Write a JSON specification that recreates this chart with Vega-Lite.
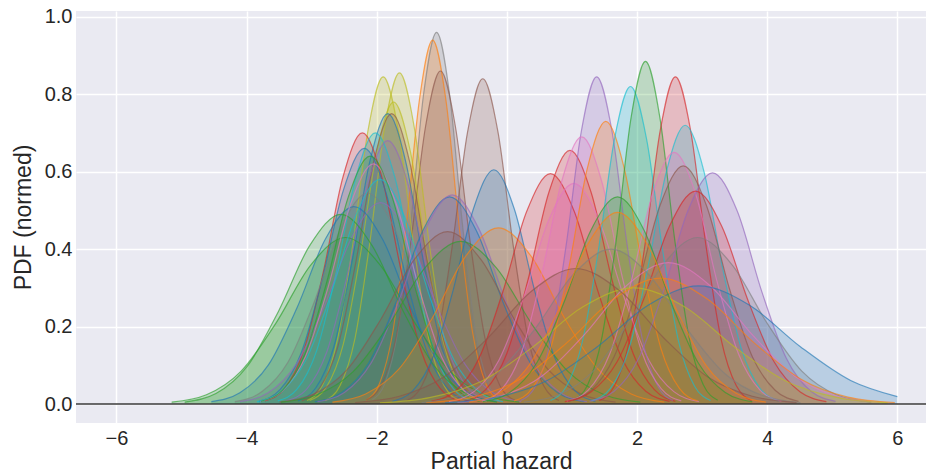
{
"$schema":"https://vega.github.io/schema/vega-lite/v6.json",
"width":850,"height":412,
"autosize":"none",
"padding":{"left":76,"top":11,"right":0,"bottom":52},
"background":"white",
"config":{"view":{"fill":"#EAEAF2","stroke":null},
"axis":{"labelFont":"Liberation Sans","titleFont":"Liberation Sans","labelFontSize":20,"titleFontSize":23,"titleFontWeight":"normal","labelColor":"#262626","titleColor":"#262626","grid":true,"gridColor":"white","gridWidth":1.5,"domain":false,"ticks":false}},
"datasets":{
"curves":[{"c":1,"g":7},{"c":2,"g":1},{"c":3,"g":5},{"c":4,"g":5},{"c":5,"g":8},{"c":6,"g":8},{"c":7,"g":8},{"c":8,"g":0},{"c":9,"g":5},{"c":10,"g":3},{"c":11,"g":9},{"c":12,"g":4},{"c":13,"g":0},{"c":14,"g":7},{"c":15,"g":4},{"c":16,"g":0},{"c":17,"g":2},{"c":18,"g":2},{"c":19,"g":6},{"c":20,"g":9},{"c":21,"g":2},{"c":22,"g":0},{"c":23,"g":4},{"c":24,"g":5},{"c":25,"g":2},{"c":26,"g":0},{"c":27,"g":1},{"c":28,"g":3},{"c":29,"g":3},{"c":30,"g":6},{"c":31,"g":4},{"c":32,"g":6},{"c":33,"g":1},{"c":34,"g":9},{"c":35,"g":2},{"c":36,"g":3},{"c":37,"g":9},{"c":38,"g":6},{"c":39,"g":5},{"c":40,"g":4},{"c":41,"g":3},{"c":42,"g":7},{"c":43,"g":6},{"c":44,"g":1},{"c":45,"g":0},{"c":46,"g":8},{"c":47,"g":7},{"c":48,"g":5},{"c":49,"g":2},{"c":50,"g":1}],
"pts":[
{"c":1,"x":-2.07,"y":0.011},{"c":1,"x":-1.872,"y":0.054},{"c":1,"x":-1.674,"y":0.19},{"c":1,"x":-1.476,"y":0.467},{"c":1,"x":-1.278,"y":0.802},{"c":1,"x":-1.08,"y":0.96},{"c":1,"x":-0.882,"y":0.802},{"c":1,"x":-0.684,"y":0.467},{"c":1,"x":-0.486,"y":0.19},{"c":1,"x":-0.288,"y":0.054},{"c":1,"x":-0.09,"y":0.011},
{"c":2,"x":-2.16,"y":0.01},{"c":2,"x":-1.956,"y":0.053},{"c":2,"x":-1.752,"y":0.186},{"c":2,"x":-1.548,"y":0.458},{"c":2,"x":-1.344,"y":0.785},{"c":2,"x":-1.14,"y":0.94},{"c":2,"x":-0.936,"y":0.785},{"c":2,"x":-0.732,"y":0.458},{"c":2,"x":-0.528,"y":0.186},{"c":2,"x":-0.324,"y":0.053},{"c":2,"x":-0.12,"y":0.01},
{"c":3,"x":-2.16,"y":0.01},{"c":3,"x":-1.932,"y":0.048},{"c":3,"x":-1.704,"y":0.17},{"c":3,"x":-1.476,"y":0.419},{"c":3,"x":-1.248,"y":0.718},{"c":3,"x":-1.02,"y":0.86},{"c":3,"x":-0.792,"y":0.718},{"c":3,"x":-0.564,"y":0.419},{"c":3,"x":-0.336,"y":0.17},{"c":3,"x":-0.108,"y":0.048},{"c":3,"x":0.12,"y":0.01},
{"c":4,"x":-1.54,"y":0.009},{"c":4,"x":-1.306,"y":0.047},{"c":4,"x":-1.072,"y":0.166},{"c":4,"x":-0.838,"y":0.409},{"c":4,"x":-0.604,"y":0.702},{"c":4,"x":-0.37,"y":0.84},{"c":4,"x":-0.136,"y":0.702},{"c":4,"x":0.098,"y":0.409},{"c":4,"x":0.332,"y":0.166},{"c":4,"x":0.566,"y":0.047},{"c":4,"x":0.8,"y":0.009},
{"c":5,"x":-3.07,"y":0.009},{"c":5,"x":-2.836,"y":0.047},{"c":5,"x":-2.602,"y":0.167},{"c":5,"x":-2.368,"y":0.411},{"c":5,"x":-2.134,"y":0.706},{"c":5,"x":-1.9,"y":0.845},{"c":5,"x":-1.666,"y":0.706},{"c":5,"x":-1.432,"y":0.411},{"c":5,"x":-1.198,"y":0.167},{"c":5,"x":-0.964,"y":0.047},{"c":5,"x":-0.73,"y":0.009},
{"c":6,"x":-2.79,"y":0.009},{"c":6,"x":-2.562,"y":0.048},{"c":6,"x":-2.334,"y":0.169},{"c":6,"x":-2.106,"y":0.416},{"c":6,"x":-1.878,"y":0.714},{"c":6,"x":-1.65,"y":0.855},{"c":6,"x":-1.422,"y":0.714},{"c":6,"x":-1.194,"y":0.416},{"c":6,"x":-0.966,"y":0.169},{"c":6,"x":-0.738,"y":0.048},{"c":6,"x":-0.51,"y":0.009},
{"c":7,"x":-3.03,"y":0.009},{"c":7,"x":-2.772,"y":0.044},{"c":7,"x":-2.514,"y":0.154},{"c":7,"x":-2.256,"y":0.38},{"c":7,"x":-1.998,"y":0.652},{"c":7,"x":-1.74,"y":0.78},{"c":7,"x":-1.482,"y":0.652},{"c":7,"x":-1.224,"y":0.38},{"c":7,"x":-0.966,"y":0.154},{"c":7,"x":-0.708,"y":0.044},{"c":7,"x":-0.45,"y":0.009},
{"c":8,"x":-3.21,"y":0.008},{"c":8,"x":-2.934,"y":0.042},{"c":8,"x":-2.658,"y":0.148},{"c":8,"x":-2.382,"y":0.365},{"c":8,"x":-2.106,"y":0.626},{"c":8,"x":-1.83,"y":0.75},{"c":8,"x":-1.554,"y":0.626},{"c":8,"x":-1.278,"y":0.365},{"c":8,"x":-1.002,"y":0.148},{"c":8,"x":-0.726,"y":0.042},{"c":8,"x":-0.45,"y":0.008},
{"c":9,"x":-3.15,"y":0.008},{"c":9,"x":-2.874,"y":0.042},{"c":9,"x":-2.598,"y":0.148},{"c":9,"x":-2.322,"y":0.365},{"c":9,"x":-2.046,"y":0.626},{"c":9,"x":-1.77,"y":0.75},{"c":9,"x":-1.494,"y":0.626},{"c":9,"x":-1.218,"y":0.365},{"c":9,"x":-0.942,"y":0.148},{"c":9,"x":-0.666,"y":0.042},{"c":9,"x":-0.39,"y":0.008},
{"c":10,"x":-3.72,"y":0.008},{"c":10,"x":-3.42,"y":0.039},{"c":10,"x":-3.12,"y":0.139},{"c":10,"x":-2.82,"y":0.341},{"c":10,"x":-2.52,"y":0.585},{"c":10,"x":-2.22,"y":0.7},{"c":10,"x":-1.92,"y":0.585},{"c":10,"x":-1.62,"y":0.341},{"c":10,"x":-1.32,"y":0.139},{"c":10,"x":-1.02,"y":0.039},{"c":10,"x":-0.72,"y":0.008},
{"c":11,"x":-3.52,"y":0.008},{"c":11,"x":-3.22,"y":0.039},{"c":11,"x":-2.92,"y":0.139},{"c":11,"x":-2.62,"y":0.341},{"c":11,"x":-2.32,"y":0.585},{"c":11,"x":-2.02,"y":0.7},{"c":11,"x":-1.72,"y":0.585},{"c":11,"x":-1.42,"y":0.341},{"c":11,"x":-1.12,"y":0.139},{"c":11,"x":-0.82,"y":0.039},{"c":11,"x":-0.52,"y":0.008},
{"c":12,"x":-3.39,"y":0.008},{"c":12,"x":-3.078,"y":0.038},{"c":12,"x":-2.766,"y":0.135},{"c":12,"x":-2.454,"y":0.331},{"c":12,"x":-2.142,"y":0.568},{"c":12,"x":-1.83,"y":0.68},{"c":12,"x":-1.518,"y":0.568},{"c":12,"x":-1.206,"y":0.331},{"c":12,"x":-0.894,"y":0.135},{"c":12,"x":-0.582,"y":0.038},{"c":12,"x":-0.27,"y":0.008},
{"c":13,"x":-3.81,"y":0.007},{"c":13,"x":-3.486,"y":0.037},{"c":13,"x":-3.162,"y":0.131},{"c":13,"x":-2.838,"y":0.321},{"c":13,"x":-2.514,"y":0.551},{"c":13,"x":-2.19,"y":0.66},{"c":13,"x":-1.866,"y":0.551},{"c":13,"x":-1.542,"y":0.321},{"c":13,"x":-1.218,"y":0.131},{"c":13,"x":-0.894,"y":0.037},{"c":13,"x":-0.57,"y":0.007},
{"c":14,"x":-4.18,"y":0.006},{"c":14,"x":-3.772,"y":0.031},{"c":14,"x":-3.364,"y":0.108},{"c":14,"x":-2.956,"y":0.265},{"c":14,"x":-2.548,"y":0.455},{"c":14,"x":-2.14,"y":0.545},{"c":14,"x":-1.732,"y":0.455},{"c":14,"x":-1.324,"y":0.265},{"c":14,"x":-0.916,"y":0.108},{"c":14,"x":-0.508,"y":0.031},{"c":14,"x":-0.1,"y":0.006},
{"c":15,"x":-4.1,"y":0.006},{"c":15,"x":-3.668,"y":0.029},{"c":15,"x":-3.236,"y":0.103},{"c":15,"x":-2.804,"y":0.253},{"c":15,"x":-2.372,"y":0.434},{"c":15,"x":-1.94,"y":0.52},{"c":15,"x":-1.508,"y":0.434},{"c":15,"x":-1.076,"y":0.253},{"c":15,"x":-0.644,"y":0.103},{"c":15,"x":-0.212,"y":0.029},{"c":15,"x":0.22,"y":0.006},
{"c":16,"x":-4.54,"y":0.006},{"c":16,"x":-4.102,"y":0.029},{"c":16,"x":-3.664,"y":0.101},{"c":16,"x":-3.226,"y":0.248},{"c":16,"x":-2.788,"y":0.426},{"c":16,"x":-2.35,"y":0.51},{"c":16,"x":-1.912,"y":0.426},{"c":16,"x":-1.474,"y":0.248},{"c":16,"x":-1.036,"y":0.101},{"c":16,"x":-0.598,"y":0.029},{"c":16,"x":-0.16,"y":0.006},
{"c":17,"x":-4.95,"y":0.005},{"c":17,"x":-4.47,"y":0.027},{"c":17,"x":-3.99,"y":0.097},{"c":17,"x":-3.51,"y":0.239},{"c":17,"x":-3.03,"y":0.409},{"c":17,"x":-2.55,"y":0.49},{"c":17,"x":-2.07,"y":0.409},{"c":17,"x":-1.59,"y":0.239},{"c":17,"x":-1.11,"y":0.097},{"c":17,"x":-0.63,"y":0.027},{"c":17,"x":-0.15,"y":0.005},
{"c":18,"x":-5.15,"y":0.005},{"c":18,"x":-4.616,"y":0.024},{"c":18,"x":-4.082,"y":0.085},{"c":18,"x":-3.548,"y":0.209},{"c":18,"x":-3.014,"y":0.359},{"c":18,"x":-2.48,"y":0.43},{"c":18,"x":-1.946,"y":0.359},{"c":18,"x":-1.412,"y":0.209},{"c":18,"x":-0.878,"y":0.085},{"c":18,"x":-0.344,"y":0.024},{"c":18,"x":0.19,"y":0.005},
{"c":19,"x":-3.79,"y":0.007},{"c":19,"x":-3.442,"y":0.035},{"c":19,"x":-3.094,"y":0.123},{"c":19,"x":-2.746,"y":0.302},{"c":19,"x":-2.398,"y":0.518},{"c":19,"x":-2.05,"y":0.62},{"c":19,"x":-1.702,"y":0.518},{"c":19,"x":-1.354,"y":0.302},{"c":19,"x":-1.006,"y":0.123},{"c":19,"x":-0.658,"y":0.035},{"c":19,"x":-0.31,"y":0.007},
{"c":20,"x":-3.84,"y":0.006},{"c":20,"x":-3.462,"y":0.033},{"c":20,"x":-3.084,"y":0.115},{"c":20,"x":-2.706,"y":0.282},{"c":20,"x":-2.328,"y":0.484},{"c":20,"x":-1.95,"y":0.58},{"c":20,"x":-1.572,"y":0.484},{"c":20,"x":-1.194,"y":0.282},{"c":20,"x":-0.816,"y":0.115},{"c":20,"x":-0.438,"y":0.033},{"c":20,"x":-0.06,"y":0.006},
{"c":21,"x":-3.78,"y":0.007},{"c":21,"x":-3.444,"y":0.036},{"c":21,"x":-3.108,"y":0.127},{"c":21,"x":-2.772,"y":0.312},{"c":21,"x":-2.436,"y":0.535},{"c":21,"x":-2.1,"y":0.64},{"c":21,"x":-1.764,"y":0.535},{"c":21,"x":-1.428,"y":0.312},{"c":21,"x":-1.092,"y":0.127},{"c":21,"x":-0.756,"y":0.036},{"c":21,"x":-0.42,"y":0.007},
{"c":22,"x":-2.95,"y":0.006},{"c":22,"x":-2.536,"y":0.03},{"c":22,"x":-2.122,"y":0.106},{"c":22,"x":-1.708,"y":0.26},{"c":22,"x":-1.294,"y":0.447},{"c":22,"x":-0.88,"y":0.535},{"c":22,"x":-0.466,"y":0.447},{"c":22,"x":-0.052,"y":0.26},{"c":22,"x":0.362,"y":0.106},{"c":22,"x":0.776,"y":0.03},{"c":22,"x":1.19,"y":0.006},
{"c":23,"x":-2.91,"y":0.006},{"c":23,"x":-2.496,"y":0.03},{"c":23,"x":-2.082,"y":0.107},{"c":23,"x":-1.668,"y":0.263},{"c":23,"x":-1.254,"y":0.451},{"c":23,"x":-0.84,"y":0.54},{"c":23,"x":-0.426,"y":0.451},{"c":23,"x":-0.012,"y":0.263},{"c":23,"x":0.402,"y":0.107},{"c":23,"x":0.816,"y":0.03},{"c":23,"x":1.23,"y":0.006},
{"c":24,"x":-3.49,"y":0.005},{"c":24,"x":-2.974,"y":0.025},{"c":24,"x":-2.458,"y":0.088},{"c":24,"x":-1.942,"y":0.217},{"c":24,"x":-1.426,"y":0.372},{"c":24,"x":-0.91,"y":0.445},{"c":24,"x":-0.394,"y":0.372},{"c":24,"x":0.122,"y":0.217},{"c":24,"x":0.638,"y":0.088},{"c":24,"x":1.154,"y":0.025},{"c":24,"x":1.67,"y":0.005},
{"c":25,"x":-3.47,"y":0.005},{"c":25,"x":-2.918,"y":0.024},{"c":25,"x":-2.366,"y":0.083},{"c":25,"x":-1.814,"y":0.204},{"c":25,"x":-1.262,"y":0.351},{"c":25,"x":-0.71,"y":0.42},{"c":25,"x":-0.158,"y":0.351},{"c":25,"x":0.394,"y":0.204},{"c":25,"x":0.946,"y":0.083},{"c":25,"x":1.498,"y":0.024},{"c":25,"x":2.05,"y":0.005},
{"c":26,"x":-1.76,"y":0.007},{"c":26,"x":-1.448,"y":0.034},{"c":26,"x":-1.136,"y":0.12},{"c":26,"x":-0.824,"y":0.295},{"c":26,"x":-0.512,"y":0.505},{"c":26,"x":-0.2,"y":0.605},{"c":26,"x":0.112,"y":0.505},{"c":26,"x":0.424,"y":0.295},{"c":26,"x":0.736,"y":0.12},{"c":26,"x":1.048,"y":0.034},{"c":26,"x":1.36,"y":0.007},
{"c":27,"x":-2.68,"y":0.005},{"c":27,"x":-2.17,"y":0.026},{"c":27,"x":-1.66,"y":0.09},{"c":27,"x":-1.15,"y":0.221},{"c":27,"x":-0.64,"y":0.38},{"c":27,"x":-0.13,"y":0.455},{"c":27,"x":0.38,"y":0.38},{"c":27,"x":0.89,"y":0.221},{"c":27,"x":1.4,"y":0.09},{"c":27,"x":1.91,"y":0.026},{"c":27,"x":2.42,"y":0.005},
{"c":28,"x":-1.16,"y":0.007},{"c":28,"x":-0.794,"y":0.033},{"c":28,"x":-0.428,"y":0.118},{"c":28,"x":-0.062,"y":0.29},{"c":28,"x":0.304,"y":0.497},{"c":28,"x":0.67,"y":0.595},{"c":28,"x":1.036,"y":0.497},{"c":28,"x":1.402,"y":0.29},{"c":28,"x":1.768,"y":0.118},{"c":28,"x":2.134,"y":0.033},{"c":28,"x":2.5,"y":0.007},
{"c":29,"x":-0.65,"y":0.007},{"c":29,"x":-0.326,"y":0.037},{"c":29,"x":-0.002,"y":0.13},{"c":29,"x":0.322,"y":0.319},{"c":29,"x":0.646,"y":0.547},{"c":29,"x":0.97,"y":0.655},{"c":29,"x":1.294,"y":0.547},{"c":29,"x":1.618,"y":0.319},{"c":29,"x":1.942,"y":0.13},{"c":29,"x":2.266,"y":0.037},{"c":29,"x":2.59,"y":0.007},
{"c":30,"x":-0.89,"y":0.006},{"c":30,"x":-0.506,"y":0.032},{"c":30,"x":-0.122,"y":0.113},{"c":30,"x":0.262,"y":0.277},{"c":30,"x":0.646,"y":0.476},{"c":30,"x":1.03,"y":0.57},{"c":30,"x":1.414,"y":0.476},{"c":30,"x":1.798,"y":0.277},{"c":30,"x":2.182,"y":0.113},{"c":30,"x":2.566,"y":0.032},{"c":30,"x":2.95,"y":0.006},
{"c":31,"x":0.21,"y":0.009},{"c":31,"x":0.444,"y":0.047},{"c":31,"x":0.678,"y":0.167},{"c":31,"x":0.912,"y":0.411},{"c":31,"x":1.146,"y":0.706},{"c":31,"x":1.38,"y":0.845},{"c":31,"x":1.614,"y":0.706},{"c":31,"x":1.848,"y":0.411},{"c":31,"x":2.082,"y":0.167},{"c":31,"x":2.316,"y":0.047},{"c":31,"x":2.55,"y":0.009},
{"c":32,"x":-0.38,"y":0.008},{"c":32,"x":-0.074,"y":0.039},{"c":32,"x":0.232,"y":0.137},{"c":32,"x":0.538,"y":0.336},{"c":32,"x":0.844,"y":0.576},{"c":32,"x":1.15,"y":0.69},{"c":32,"x":1.456,"y":0.576},{"c":32,"x":1.762,"y":0.336},{"c":32,"x":2.068,"y":0.137},{"c":32,"x":2.374,"y":0.039},{"c":32,"x":2.68,"y":0.008},
{"c":33,"x":0.11,"y":0.008},{"c":33,"x":0.392,"y":0.041},{"c":33,"x":0.674,"y":0.144},{"c":33,"x":0.956,"y":0.355},{"c":33,"x":1.238,"y":0.61},{"c":33,"x":1.52,"y":0.73},{"c":33,"x":1.802,"y":0.61},{"c":33,"x":2.084,"y":0.355},{"c":33,"x":2.366,"y":0.144},{"c":33,"x":2.648,"y":0.041},{"c":33,"x":2.93,"y":0.008},
{"c":34,"x":0.67,"y":0.009},{"c":34,"x":0.916,"y":0.046},{"c":34,"x":1.162,"y":0.162},{"c":34,"x":1.408,"y":0.399},{"c":34,"x":1.654,"y":0.685},{"c":34,"x":1.9,"y":0.82},{"c":34,"x":2.146,"y":0.685},{"c":34,"x":2.392,"y":0.399},{"c":34,"x":2.638,"y":0.162},{"c":34,"x":2.884,"y":0.046},{"c":34,"x":3.13,"y":0.009},
{"c":35,"x":1.02,"y":0.01},{"c":35,"x":1.242,"y":0.05},{"c":35,"x":1.464,"y":0.175},{"c":35,"x":1.686,"y":0.431},{"c":35,"x":1.908,"y":0.739},{"c":35,"x":2.13,"y":0.885},{"c":35,"x":2.352,"y":0.739},{"c":35,"x":2.574,"y":0.431},{"c":35,"x":2.796,"y":0.175},{"c":35,"x":3.018,"y":0.05},{"c":35,"x":3.24,"y":0.01},
{"c":36,"x":1.42,"y":0.009},{"c":36,"x":1.654,"y":0.047},{"c":36,"x":1.888,"y":0.167},{"c":36,"x":2.122,"y":0.411},{"c":36,"x":2.356,"y":0.706},{"c":36,"x":2.59,"y":0.845},{"c":36,"x":2.824,"y":0.706},{"c":36,"x":3.058,"y":0.411},{"c":36,"x":3.292,"y":0.167},{"c":36,"x":3.526,"y":0.047},{"c":36,"x":3.76,"y":0.009},
{"c":37,"x":1.3,"y":0.008},{"c":37,"x":1.588,"y":0.04},{"c":37,"x":1.876,"y":0.142},{"c":37,"x":2.164,"y":0.35},{"c":37,"x":2.452,"y":0.601},{"c":37,"x":2.74,"y":0.72},{"c":37,"x":3.028,"y":0.601},{"c":37,"x":3.316,"y":0.35},{"c":37,"x":3.604,"y":0.142},{"c":37,"x":3.892,"y":0.04},{"c":37,"x":4.18,"y":0.008},
{"c":38,"x":0.92,"y":0.007},{"c":38,"x":1.25,"y":0.036},{"c":38,"x":1.58,"y":0.129},{"c":38,"x":1.91,"y":0.316},{"c":38,"x":2.24,"y":0.543},{"c":38,"x":2.57,"y":0.65},{"c":38,"x":2.9,"y":0.543},{"c":38,"x":3.23,"y":0.316},{"c":38,"x":3.56,"y":0.129},{"c":38,"x":3.89,"y":0.036},{"c":38,"x":4.22,"y":0.007},
{"c":39,"x":0.94,"y":0.007},{"c":39,"x":1.294,"y":0.035},{"c":39,"x":1.648,"y":0.122},{"c":39,"x":2.002,"y":0.299},{"c":39,"x":2.356,"y":0.514},{"c":39,"x":2.71,"y":0.615},{"c":39,"x":3.064,"y":0.514},{"c":39,"x":3.418,"y":0.299},{"c":39,"x":3.772,"y":0.122},{"c":39,"x":4.126,"y":0.035},{"c":39,"x":4.48,"y":0.007},
{"c":40,"x":1.27,"y":0.007},{"c":40,"x":1.648,"y":0.033},{"c":40,"x":2.026,"y":0.118},{"c":40,"x":2.404,"y":0.291},{"c":40,"x":2.782,"y":0.499},{"c":40,"x":3.16,"y":0.597},{"c":40,"x":3.538,"y":0.499},{"c":40,"x":3.916,"y":0.291},{"c":40,"x":4.294,"y":0.118},{"c":40,"x":4.672,"y":0.033},{"c":40,"x":5.05,"y":0.007},
{"c":41,"x":0.89,"y":0.006},{"c":41,"x":1.292,"y":0.031},{"c":41,"x":1.694,"y":0.109},{"c":41,"x":2.096,"y":0.268},{"c":41,"x":2.498,"y":0.459},{"c":41,"x":2.9,"y":0.55},{"c":41,"x":3.302,"y":0.459},{"c":41,"x":3.704,"y":0.268},{"c":41,"x":4.106,"y":0.109},{"c":41,"x":4.508,"y":0.031},{"c":41,"x":4.91,"y":0.006},
{"c":42,"x":0.26,"y":0.005},{"c":42,"x":0.794,"y":0.024},{"c":42,"x":1.328,"y":0.085},{"c":42,"x":1.862,"y":0.209},{"c":42,"x":2.396,"y":0.359},{"c":42,"x":2.93,"y":0.43},{"c":42,"x":3.464,"y":0.359},{"c":42,"x":3.998,"y":0.209},{"c":42,"x":4.532,"y":0.085},{"c":42,"x":5.066,"y":0.024},{"c":42,"x":5.6,"y":0.005},
{"c":43,"x":-0.76,"y":0.004},{"c":43,"x":-0.112,"y":0.02},{"c":43,"x":0.536,"y":0.072},{"c":43,"x":1.184,"y":0.178},{"c":43,"x":1.832,"y":0.305},{"c":43,"x":2.48,"y":0.365},{"c":43,"x":3.128,"y":0.305},{"c":43,"x":3.776,"y":0.178},{"c":43,"x":4.424,"y":0.072},{"c":43,"x":5.072,"y":0.02},{"c":43,"x":5.72,"y":0.004},
{"c":44,"x":-1.24,"y":0.004},{"c":44,"x":-0.52,"y":0.018},{"c":44,"x":0.2,"y":0.064},{"c":44,"x":0.92,"y":0.158},{"c":44,"x":1.64,"y":0.271},{"c":44,"x":2.36,"y":0.325},{"c":44,"x":3.08,"y":0.271},{"c":44,"x":3.8,"y":0.158},{"c":44,"x":4.52,"y":0.064},{"c":44,"x":5.24,"y":0.018},{"c":44,"x":5.96,"y":0.004},
{"c":45,"x":-0.95,"y":0.003},{"c":45,"x":-0.17,"y":0.017},{"c":45,"x":0.61,"y":0.06},{"c":45,"x":1.39,"y":0.148},{"c":45,"x":2.17,"y":0.255},{"c":45,"x":2.95,"y":0.305},{"c":45,"x":3.73,"y":0.255},{"c":45,"x":4.51,"y":0.148},{"c":45,"x":5.29,"y":0.06},{"c":45,"x":6.0,"y":0.019},
{"c":46,"x":-1.95,"y":0.003},{"c":46,"x":-1.17,"y":0.017},{"c":46,"x":-0.39,"y":0.059},{"c":46,"x":0.39,"y":0.146},{"c":46,"x":1.17,"y":0.251},{"c":46,"x":1.95,"y":0.3},{"c":46,"x":2.73,"y":0.251},{"c":46,"x":3.51,"y":0.146},{"c":46,"x":4.29,"y":0.059},{"c":46,"x":5.07,"y":0.017},{"c":46,"x":5.85,"y":0.003},
{"c":47,"x":-1.31,"y":0.004},{"c":47,"x":-0.728,"y":0.022},{"c":47,"x":-0.146,"y":0.079},{"c":47,"x":0.436,"y":0.195},{"c":47,"x":1.018,"y":0.334},{"c":47,"x":1.6,"y":0.4},{"c":47,"x":2.182,"y":0.334},{"c":47,"x":2.764,"y":0.195},{"c":47,"x":3.346,"y":0.079},{"c":47,"x":3.928,"y":0.022},{"c":47,"x":4.51,"y":0.004},
{"c":48,"x":-2.33,"y":0.004},{"c":48,"x":-1.652,"y":0.02},{"c":48,"x":-0.974,"y":0.069},{"c":48,"x":-0.296,"y":0.17},{"c":48,"x":0.382,"y":0.292},{"c":48,"x":1.06,"y":0.35},{"c":48,"x":1.738,"y":0.292},{"c":48,"x":2.416,"y":0.17},{"c":48,"x":3.094,"y":0.069},{"c":48,"x":3.772,"y":0.02},{"c":48,"x":4.45,"y":0.004},
{"c":49,"x":-0.37,"y":0.006},{"c":49,"x":0.044,"y":0.03},{"c":49,"x":0.458,"y":0.106},{"c":49,"x":0.872,"y":0.26},{"c":49,"x":1.286,"y":0.447},{"c":49,"x":1.7,"y":0.535},{"c":49,"x":2.114,"y":0.447},{"c":49,"x":2.528,"y":0.26},{"c":49,"x":2.942,"y":0.106},{"c":49,"x":3.356,"y":0.03},{"c":49,"x":3.77,"y":0.006},
{"c":50,"x":-0.58,"y":0.005},{"c":50,"x":-0.124,"y":0.028},{"c":50,"x":0.332,"y":0.098},{"c":50,"x":0.788,"y":0.241},{"c":50,"x":1.244,"y":0.413},{"c":50,"x":1.7,"y":0.495},{"c":50,"x":2.156,"y":0.413},{"c":50,"x":2.612,"y":0.241},{"c":50,"x":3.068,"y":0.098},{"c":50,"x":3.524,"y":0.028},{"c":50,"x":3.98,"y":0.005}
]},
"layer":[
{"data":{"name":"pts"},
"transform":[{"lookup":"c","from":{"data":{"name":"curves"},"key":"c","fields":["g"]}}],
"encoding":{
"x":{"field":"x","type":"quantitative","scale":{"domain":[-6.62,6.44],"nice":false,"zero":false},"axis":{"title":"Partial hazard","values":[-6,-4,-2,0,2,4,6],"format":"d","labelPadding":5,"titlePadding":2}},
"y":{"field":"y","type":"quantitative","stack":null,"scale":{"domain":[-0.049,1.015],"nice":false,"zero":false},"axis":{"title":"PDF (normed)","values":[0,0.2,0.4,0.6,0.8,1.0],"format":".1f","labelPadding":4,"titlePadding":9}},
"detail":{"field":"c","type":"nominal"},
"color":{"field":"g","type":"nominal","legend":null,"scale":{"domain":[0,1,2,3,4,5,6,7,8,9],"range":["#1f77b4","#ff7f0e","#2ca02c","#d62728","#9467bd","#8c564b","#e377c2","#7f7f7f","#bcbd22","#17becf"]}}},
"layer":[
{"mark":{"type":"area","interpolate":"monotone","fillOpacity":0.24,"clip":true}},
{"mark":{"type":"line","interpolate":"monotone","strokeWidth":1.2,"opacity":0.65,"clip":true}}
]},
{"data":{"values":[{"y":0}]},"mark":{"type":"rule","color":"#3a3a3a","strokeWidth":1.5},"encoding":{"y":{"field":"y","type":"quantitative"}}}
]
}
